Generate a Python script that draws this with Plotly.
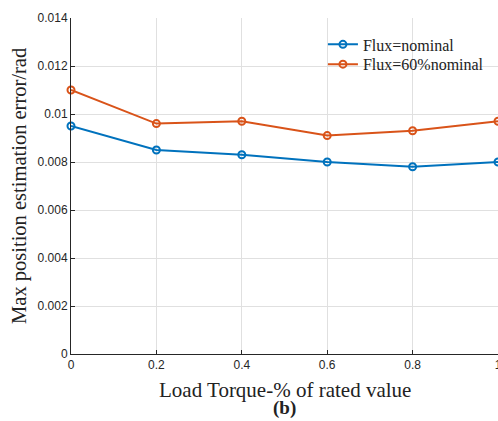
import plotly.graph_objects as go

x_vals = [0, 0.2, 0.4, 0.6, 0.8, 1.0]
flux_nominal = [0.0095, 0.0085, 0.0083, 0.0080, 0.0078, 0.0080]
flux_60 = [0.0110, 0.0096, 0.0097, 0.0091, 0.0093, 0.0097]
series_names = ["Flux=nominal", "Flux=60%nominal"]
y_ticks = [0, 0.002, 0.004, 0.006, 0.008, 0.01, 0.012, 0.014]
y_tick_labels = ["0", "0.002", "0.004", "0.006", "0.008", "0.01", "0.012", "0.014"]
x_ticks = [0, 0.2, 0.4, 0.6, 0.8, 1]
x_tick_labels = ["0", "0.2", "0.4", "0.6", "0.8", "1"]

colors = ["#0072BD", "#D95319"]
legends = ["legend", "legend2"]

fig = go.Figure()
for name, ys, c, lg in zip(series_names, [flux_nominal, flux_60], colors, legends):
    fig.add_trace(go.Scatter(
        x=x_vals, y=ys, name=name, mode="lines+markers",
        line=dict(color=c, width=2),
        marker=dict(symbol="circle-open", size=7, color=c, line=dict(width=2)),
        cliponaxis=False, legend=lg,
    ))

leg_font = dict(family="Liberation Serif", size=16, color="#222")
fig.update_layout(
    width=498, height=421,
    margin=dict(l=71, r=0, t=18, b=67, autoexpand=False),
    paper_bgcolor="white", plot_bgcolor="white",
    showlegend=True,
    legend=dict(x=0.59, y=0.972, xanchor="left", yanchor="top",
                font=leg_font, bgcolor="rgba(0,0,0,0)"),
    legend2=dict(x=0.59, y=0.913, xanchor="left", yanchor="top",
                 font=leg_font, bgcolor="rgba(0,0,0,0)"),
    font=dict(family="Liberation Sans", size=12, color="#262626"),
)
fig.update_xaxes(
    range=[0, 1], tickvals=x_ticks, ticktext=x_tick_labels,
    showgrid=True, gridcolor="#e0e0e0", gridwidth=1,
    showline=True, linecolor="#262626", linewidth=1,
    ticks="inside", ticklen=4, tickcolor="#262626",
    zeroline=False, ticklabeloverflow="allow", automargin=False,
    tickfont=dict(family="Liberation Sans", size=12, color="#262626"),
)
fig.update_yaxes(
    range=[0, 0.014], tickvals=y_ticks, ticktext=y_tick_labels,
    showgrid=True, gridcolor="#e0e0e0", gridwidth=1,
    showline=True, linecolor="#262626", linewidth=1,
    ticks="inside", ticklen=4, tickcolor="#262626",
    zeroline=False, automargin=False,
    tickfont=dict(family="Liberation Sans", size=12, color="#262626"),
)

fig.add_annotation(text="Load Torque-% of rated value", xref="paper", yref="paper",
                   x=0.5, y=-0.066, xanchor="center", yanchor="top", showarrow=False,
                   font=dict(family="Liberation Serif", size=21, color="#222"))
fig.add_annotation(text="<b>(b)</b>", xref="paper", yref="paper",
                   x=0.5, y=-0.1994, xanchor="center", yanchor="bottom", showarrow=False,
                   font=dict(family="Liberation Serif", size=19, color="#222"))
fig.add_annotation(text="Max position estimation error/rad", xref="paper", yref="paper",
                   x=-0.122, y=0.5, xanchor="center", yanchor="middle", showarrow=False,
                   textangle=-90,
                   font=dict(family="Liberation Serif", size=20.5, color="#222"))

fig.write_html("out.html")
